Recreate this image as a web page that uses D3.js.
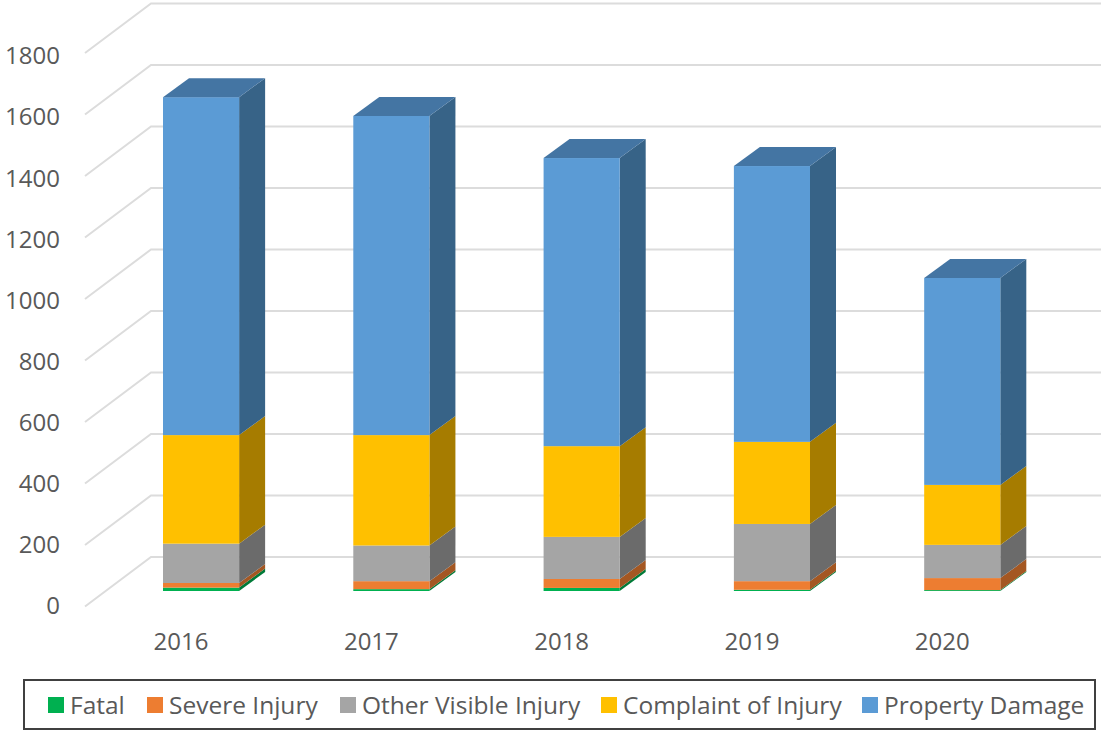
<!DOCTYPE html>
<html lang="en">

<head>
    <meta charset="UTF-8">
    <title>Collisions by severity</title>
    <style>
    body {
        margin: 0;
        background: #fff;
    }

    svg text {
        font-family: "Open Sans", "Noto Sans", sans-serif;
        fill: #595959;
    }
    </style>
</head>

<body>
    <svg id="chart" width="1101" height="730"></svg>
    <script src="https://d3js.org/d3.v7.min.js"></script>
    <script>
    var years = ["2016", "2017", "2018", "2019", "2020"];
    var severities = ["Fatal", "Severe Injury", "Other Visible Injury", "Complaint of Injury", "Property Damage"];
    var fatal = [11, 6, 10, 4, 3];
    var severeInjury = [15, 26, 29, 28, 39];
    var otherVisibleInjury = [128, 116, 137, 186, 108];
    var complaintOfInjury = [353, 359, 295, 267, 195];
    var propertyDamage = [1099, 1038, 937, 897, 673];
    var yTicks = [0, 200, 400, 600, 800, 1000, 1200, 1400, 1600, 1800];

    var frontColors = ["#00b050", "#ed7d31", "#a5a5a5", "#ffc000", "#5b9bd5"];
    var sideColors = ["#007a38", "#a45722", "#6b6b6b", "#a67c00", "#376387"];
    var topColors = ["#008c40", "#b9622a", "#7f7f7f", "#bf9000", "#4475a3"];

    var svg = d3.select("#chart");

    // bars stand on a plane set back from the front edge of the floor
    var y = d3.scaleLinear().domain([0, 1800]).range([591, 37.5]);
    var x = d3.scaleBand().domain(years).range([163, 1000.3]).paddingInner(0.6).paddingOuter(0);
    var depthX = 26, depthY = -19;

    // wall and floor lines
    var wallY = d3.scaleLinear().domain([0, 1800]).range([557, 3.5]);
    var edgeY = d3.scaleLinear().domain([0, 1800]).range([606.5, 53]);
    var labelY = d3.scaleLinear().domain([0, 1800]).range([605.5, 56]);
    var edgeX = 85, wallX = 151, wallEnd = 1101;

    var grid = svg.append("g")
        .attr("fill", "none")
        .attr("stroke", "#dcdcdc")
        .attr("stroke-width", 2);

    grid.selectAll("path")
        .data(yTicks)
        .enter().append("path")
        .attr("d", function(d) {
            return d3.line()([[edgeX, edgeY(d)], [wallX, wallY(d)], [wallEnd, wallY(d)]]);
        });

    svg.append("g").selectAll("text")
        .data(yTicks)
        .enter().append("text")
        .attr("x", 60)
        .attr("y", function(d) { return labelY(d); })
        .attr("dy", "0.35em")
        .attr("text-anchor", "end")
        .attr("font-size", 24)
        .text(function(d) { return d; });

    var stacked = years.map(function(year, i) {
        var values = [fatal[i], severeInjury[i], otherVisibleInjury[i], complaintOfInjury[i], propertyDamage[i]];
        var total = 0;
        return values.map(function(v, s) {
            var part = { year: year, series: s, y0: total, y1: total + v };
            total += v;
            return part;
        });
    });

    var bars = svg.append("g").selectAll("g")
        .data(stacked)
        .enter().append("g");

    bars.each(function(parts) {
        var bar = d3.select(this);
        var last = parts[parts.length - 1];

        parts.forEach(function(p) {
            var x0 = x(p.year), x1 = x0 + x.bandwidth();

            bar.append("path")
                .attr("fill", sideColors[p.series])
                .attr("d", d3.line()([
                    [x1, y(p.y0)], [x1 + depthX, y(p.y0) + depthY],
                    [x1 + depthX, y(p.y1) + depthY], [x1, y(p.y1)]
                ]) + "Z");

            bar.append("rect")
                .attr("x", x0)
                .attr("y", y(p.y1))
                .attr("width", x.bandwidth())
                .attr("height", y(p.y0) - y(p.y1))
                .attr("fill", frontColors[p.series]);
        });

        var x0 = x(last.year), x1 = x0 + x.bandwidth();
        bar.append("path")
            .attr("fill", topColors[last.series])
            .attr("d", d3.line()([
                [x0, y(last.y1)], [x0 + depthX, y(last.y1) + depthY],
                [x1 + depthX, y(last.y1) + depthY], [x1, y(last.y1)]
            ]) + "Z");
    });

    svg.append("g").selectAll("text")
        .data(years)
        .enter().append("text")
        .attr("x", function(d) { return x(d) + x.bandwidth() / 2 - 20; })
        .attr("y", 642)
        .attr("dy", "0.35em")
        .attr("text-anchor", "middle")
        .attr("font-size", 24)
        .text(function(d) { return d; });

    // legend
    svg.append("rect")
        .attr("x", 24)
        .attr("y", 680)
        .attr("width", 1071)
        .attr("height", 49)
        .attr("fill", "#fff")
        .attr("stroke", "#404040")
        .attr("stroke-width", 2);

    var legendX = [48, 147, 340, 601, 862];

    var legend = svg.append("g").selectAll("g")
        .data(severities)
        .enter().append("g")
        .attr("transform", function(d, i) { return "translate(" + legendX[i] + ",697)"; });

    legend.append("rect")
        .attr("width", 16)
        .attr("height", 16)
        .attr("fill", function(d, i) { return frontColors[i]; });

    legend.append("text")
        .attr("x", 22)
        .attr("y", 8)
        .attr("dy", "0.35em")
        .attr("font-size", 24.5)
        .text(function(d) { return d; });
    </script>
</body>

</html>
